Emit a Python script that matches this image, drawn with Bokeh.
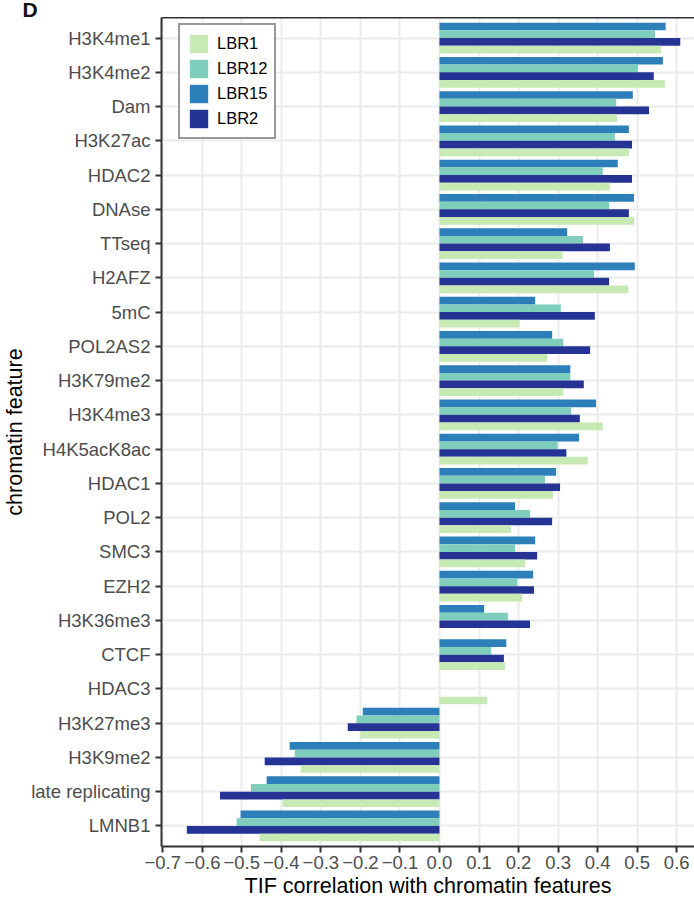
import numpy as np
from bokeh.plotting import figure
from bokeh.layouts import column
from bokeh.models import (FactorRange, Range1d, LinearAxis, FixedTicker, CustomJSTickFormatter,
                          Legend, LegendItem, Label, ColumnDataSource)
from bokeh.transform import dodge
from bokeh.embed import file_html
from bokeh.resources import INLINE

nan = float("nan")

features = ["H3K4me1", "H3K4me2", "Dam", "H3K27ac", "HDAC2", "DNAse", "TTseq", "H2AFZ",
            "5mC", "POL2AS2", "H3K79me2", "H3K4me3", "H4K5acK8ac", "HDAC1", "POL2", "SMC3",
            "EZH2", "H3K36me3", "CTCF", "HDAC3", "H3K27me3", "H3K9me2", "late replicating", "LMNB1"]

LBR15 = [0.572, 0.565, 0.489, 0.479, 0.451, 0.492, 0.323, 0.494, 0.242, 0.285, 0.331, 0.396,
         0.353, 0.295, 0.191, 0.242, 0.237, 0.113, 0.169, nan, -0.194, -0.379, -0.437, -0.503]
LBR12 = [0.545, 0.502, 0.447, 0.444, 0.413, 0.429, 0.363, 0.391, 0.307, 0.313, 0.331, 0.333,
         0.299, 0.267, 0.229, 0.191, 0.197, 0.173, 0.131, nan, -0.210, -0.366, -0.477, -0.513]
LBR2 = [0.609, 0.542, 0.530, 0.487, 0.487, 0.479, 0.431, 0.429, 0.393, 0.381, 0.365, 0.355,
        0.321, 0.305, 0.285, 0.247, 0.239, 0.229, 0.163, nan, -0.232, -0.442, -0.555, -0.639]
LBR1 = [0.560, 0.570, 0.449, 0.479, 0.431, 0.492, 0.311, 0.477, 0.203, 0.273, 0.313, 0.413,
        0.375, 0.287, 0.181, 0.217, 0.209, nan, 0.166, 0.121, -0.200, -0.351, -0.396, -0.455]

x_ticks = [-0.7, -0.6, -0.5, -0.4, -0.3, -0.2, -0.1, 0.0, 0.1, 0.2, 0.3, 0.4, 0.5, 0.6]

src = ColumnDataSource(dict(feature=features,
                            LBR15=np.array(LBR15), LBR12=np.array(LBR12),
                            LBR2=np.array(LBR2), LBR1=np.array(LBR1)))

FONT = "Liberation Sans"
DARK = "#333333"
HEADER_H = 17

# header strip carrying the panel letter
hdr = figure(width=694, height=HEADER_H, output_backend="svg", toolbar_location=None,
             x_range=Range1d(0, 694), y_range=Range1d(0, HEADER_H),
             x_axis_location=None, y_axis_location=None, min_border=0)
hdr.outline_line_color = None
hdr.grid.visible = False
if "frame_align" in hdr.properties():
    hdr.frame_align = False
hdr.add_layout(Label(x=22, y=HEADER_H / 2, x_units="screen", y_units="screen", text="D",
                     text_font=FONT, text_font_style="bold", text_font_size="21px",
                     text_color="#111111", text_baseline="middle", text_align="left"))

p = figure(width=694, height=900 - HEADER_H, output_backend="svg", toolbar_location=None,
           y_range=FactorRange(factors=list(reversed(features)), range_padding=0.2 / 24,
                               range_padding_units="percent"),
           x_range=Range1d(-0.703, 0.645),
           min_border_left=160, min_border_right=0, min_border_top=0, min_border_bottom=54)
p.outline_line_color = None
p.background_fill_color = "white"

series = [("LBR15", "#2c7fb8", 0.3375), ("LBR12", "#7fcdbb", 0.1125),
          ("LBR2", "#253494", -0.1125), ("LBR1", "#c7e9b4", -0.3375)]
rends = {}
for name, col, off in series:
    rends[name] = p.hbar(y=dodge("feature", off, range=p.y_range), left=0, right=name,
                         height=0.225, source=src, fill_color=col, line_color=None)

# grid
p.xgrid.ticker = FixedTicker(ticks=x_ticks)
for g in (p.xgrid[0], p.ygrid[0]):
    g.grid_line_color = "#ebebeb"
    g.grid_line_width = 2

# x axis
xa = p.xaxis[0]
xa.ticker = FixedTicker(ticks=x_ticks)
xa.formatter = CustomJSTickFormatter(code="return (tick < -1e-9 ? '\u2212' : '') + Math.abs(tick).toFixed(1);")
xa.axis_label = "TIF correlation with chromatin features"
xa.axis_label_text_font = FONT
xa.axis_label_text_font_size = "21.5px"
xa.axis_label_text_font_style = "normal"
xa.axis_label_text_color = "black"
xa.axis_label_standoff = 2
xa.major_label_text_font = FONT
xa.major_label_text_font_size = "18.5px"
xa.major_label_text_color = "#4d4d4d"
xa.major_label_standoff = 3

# y axis
ya = p.yaxis[0]
ya.axis_label = "chromatin feature"
ya.axis_label_text_font = FONT
ya.axis_label_text_font_size = "21.5px"
ya.axis_label_text_font_style = "normal"
ya.axis_label_text_color = "black"
ya.axis_label_standoff = 1
ya.major_label_text_font = FONT
ya.major_label_text_font_size = "18.5px"
ya.major_label_text_color = "#4d4d4d"
ya.major_label_standoff = 5

for ax in (xa, ya):
    ax.axis_line_color = DARK
    ax.axis_line_width = 2
    ax.major_tick_line_color = DARK
    ax.major_tick_line_width = 2
    ax.major_tick_out = 6
    ax.major_tick_in = 0
    ax.minor_tick_line_color = None

# top border
top = LinearAxis(ticker=FixedTicker(ticks=[]), axis_line_color=DARK, axis_line_width=2,
                 major_tick_line_color=None, minor_tick_line_color=None,
                 major_label_text_font_size="0px", major_label_standoff=0)
p.add_layout(top, "above")

# legend
order = ["LBR1", "LBR12", "LBR15", "LBR2"]
legend = Legend(items=[LegendItem(label=n, renderers=[rends[n]]) for n in order],
                location=(17, 707), orientation="vertical",
                border_line_color=DARK, border_line_width=2,
                background_fill_color="white", background_fill_alpha=1.0,
                padding=7, spacing=2, margin=0,
                glyph_width=23, glyph_height=23, label_height=23,
                label_standoff=7, label_text_font=FONT, label_text_font_size="16.5px",
                label_text_color="black")
p.add_layout(legend, "center")

page = column(hdr, p, spacing=0)

open("out.html", "w").write(file_html(page, INLINE))
